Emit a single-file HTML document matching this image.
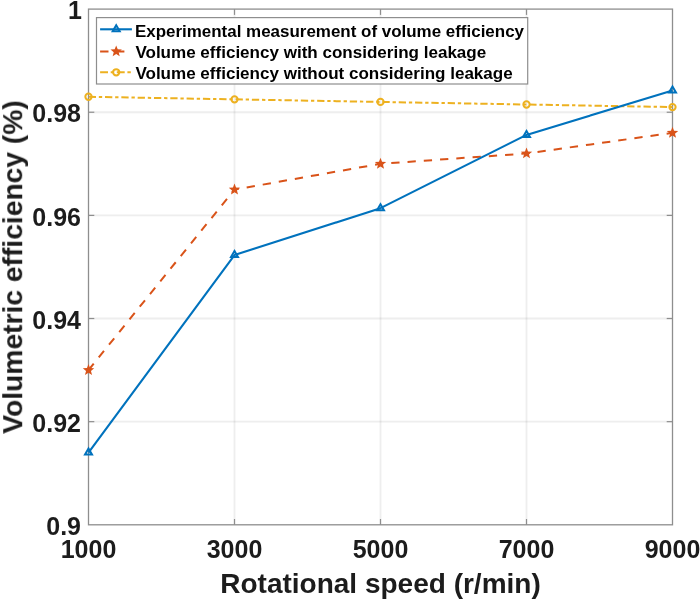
<!DOCTYPE html>
<html><head><meta charset="utf-8"><title>Volumetric efficiency</title>
<style>
html,body{margin:0;padding:0;background:#fff;}
body{width:700px;height:600px;overflow:hidden;}
svg{display:block;}
text{font-family:"Liberation Sans",sans-serif;font-weight:bold;fill:#1c1c1c;}
.tick{font-size:25px;}
.lab{font-size:28px;}
.leg{font-size:17px;fill:#000000;}
</style></head><body>
<svg width="700" height="600" viewBox="0 0 700 600">
<defs><filter id="gaa" x="0" y="0" width="700" height="600" filterUnits="userSpaceOnUse"><feOffset dx="0" dy="0"/></filter></defs>
<rect x="0" y="0" width="700" height="600" fill="#ffffff"/>
<g>
<line x1="234.50" y1="9.1" x2="234.50" y2="524.8" stroke="#262626" stroke-opacity="0.078" stroke-width="1.8"/>
<line x1="380.50" y1="9.1" x2="380.50" y2="524.8" stroke="#262626" stroke-opacity="0.078" stroke-width="1.8"/>
<line x1="526.50" y1="9.1" x2="526.50" y2="524.8" stroke="#262626" stroke-opacity="0.078" stroke-width="1.8"/>
<line x1="88.5" y1="421.66" x2="672.5" y2="421.66" stroke="#262626" stroke-opacity="0.078" stroke-width="1.8"/>
<line x1="88.5" y1="318.52" x2="672.5" y2="318.52" stroke="#262626" stroke-opacity="0.078" stroke-width="1.8"/>
<line x1="88.5" y1="215.38" x2="672.5" y2="215.38" stroke="#262626" stroke-opacity="0.078" stroke-width="1.8"/>
<line x1="88.5" y1="112.24" x2="672.5" y2="112.24" stroke="#262626" stroke-opacity="0.078" stroke-width="1.8"/>
</g>
<rect x="88.5" y="9.1" width="584.0" height="515.70" fill="none" stroke="#8e8e8e" stroke-width="1.3"/>
<g stroke="#8e8e8e" stroke-width="1.2">
<line x1="234.50" y1="524.8" x2="234.50" y2="519.00"/>
<line x1="234.50" y1="9.1" x2="234.50" y2="14.90"/>
<line x1="380.50" y1="524.8" x2="380.50" y2="519.00"/>
<line x1="380.50" y1="9.1" x2="380.50" y2="14.90"/>
<line x1="526.50" y1="524.8" x2="526.50" y2="519.00"/>
<line x1="526.50" y1="9.1" x2="526.50" y2="14.90"/>
<line x1="88.5" y1="421.66" x2="94.3" y2="421.66"/>
<line x1="672.5" y1="421.66" x2="666.7" y2="421.66"/>
<line x1="88.5" y1="318.52" x2="94.3" y2="318.52"/>
<line x1="672.5" y1="318.52" x2="666.7" y2="318.52"/>
<line x1="88.5" y1="215.38" x2="94.3" y2="215.38"/>
<line x1="672.5" y1="215.38" x2="666.7" y2="215.38"/>
<line x1="88.5" y1="112.24" x2="94.3" y2="112.24"/>
<line x1="672.5" y1="112.24" x2="666.7" y2="112.24"/>
</g>
<g filter="url(#gaa)">
<text class="tick" x="88.50" y="558" text-anchor="middle">1000</text>
<text class="tick" x="234.50" y="558" text-anchor="middle">3000</text>
<text class="tick" x="380.50" y="558" text-anchor="middle">5000</text>
<text class="tick" x="526.50" y="558" text-anchor="middle">7000</text>
<text class="tick" x="672.50" y="558" text-anchor="middle">9000</text>
<text class="tick" x="81.0" y="535.40" text-anchor="end">0.9</text>
<text class="tick" x="81.0" y="432.12" text-anchor="end">0.92</text>
<text class="tick" x="81.0" y="328.84" text-anchor="end">0.94</text>
<text class="tick" x="81.0" y="225.56" text-anchor="end">0.96</text>
<text class="tick" x="81.0" y="122.28" text-anchor="end">0.98</text>
<text class="tick" x="82.0" y="19.00" text-anchor="end">1</text>
<text class="lab" x="380.5" y="592.6" text-anchor="middle">Rotational speed (r/min)</text>
<text class="lab" style="font-size:28.23px" transform="translate(22.2,433.7) rotate(-90)" text-anchor="start">Volumetric efficiency (%)</text>
</g>
<polyline points="88.50,96.77 234.50,99.35 380.50,101.93 526.50,104.50 672.50,107.08" fill="none" stroke="#EDB120" stroke-width="2.0" stroke-dasharray="7.3 2.85 3.32 2.85" stroke-dashoffset="-0.2"/>
<polyline points="88.50,370.09 234.50,189.60 380.50,163.81 526.50,153.50 672.50,132.87" fill="none" stroke="#D95319" stroke-width="2.0" stroke-dasharray="8.3 8.0"/>
<polyline points="88.50,452.60 234.50,255.09 380.50,208.16 526.50,134.93 672.50,90.58" fill="none" stroke="#0072BD" stroke-width="2.1" stroke-linejoin="round"/>
<circle cx="88.50" cy="96.77" r="3.15" fill="none" stroke="#EDB120" stroke-width="2"/>
<circle cx="234.50" cy="99.35" r="3.15" fill="none" stroke="#EDB120" stroke-width="2"/>
<circle cx="380.50" cy="101.93" r="3.15" fill="none" stroke="#EDB120" stroke-width="2"/>
<circle cx="526.50" cy="104.50" r="3.15" fill="none" stroke="#EDB120" stroke-width="2"/>
<circle cx="672.50" cy="107.08" r="3.15" fill="none" stroke="#EDB120" stroke-width="2"/>
<polygon points="88.50,364.09 90.03,367.99 94.21,368.24 90.97,370.89 92.03,374.94 88.50,372.69 84.97,374.94 86.03,370.89 82.79,368.24 86.97,367.99" fill="#D95319"/>
<polygon points="234.50,183.60 236.03,187.49 240.21,187.74 236.97,190.40 238.03,194.45 234.50,192.20 230.97,194.45 232.03,190.40 228.79,187.74 232.97,187.49" fill="#D95319"/>
<polygon points="380.50,157.81 382.03,161.71 386.21,161.96 382.97,164.61 384.03,168.66 380.50,166.41 376.97,168.66 378.03,164.61 374.79,161.96 378.97,161.71" fill="#D95319"/>
<polygon points="526.50,147.50 528.03,151.39 532.21,151.64 528.97,154.30 530.03,158.35 526.50,156.10 522.97,158.35 524.03,154.30 520.79,151.64 524.97,151.39" fill="#D95319"/>
<polygon points="672.50,126.87 674.03,130.76 678.21,131.01 674.97,133.67 676.03,137.72 672.50,135.47 668.97,137.72 670.03,133.67 666.79,131.01 670.97,130.76" fill="#D95319"/>
<path d="M85.00,454.62 L92.00,454.62 L88.50,448.57 Z" fill="none" stroke="#0072BD" stroke-width="2" stroke-linejoin="miter"/>
<path d="M231.00,257.11 L238.00,257.11 L234.50,251.06 Z" fill="none" stroke="#0072BD" stroke-width="2" stroke-linejoin="miter"/>
<path d="M377.00,210.18 L384.00,210.18 L380.50,204.13 Z" fill="none" stroke="#0072BD" stroke-width="2" stroke-linejoin="miter"/>
<path d="M523.00,136.95 L530.00,136.95 L526.50,130.90 Z" fill="none" stroke="#0072BD" stroke-width="2" stroke-linejoin="miter"/>
<path d="M669.00,92.60 L676.00,92.60 L672.50,86.55 Z" fill="none" stroke="#0072BD" stroke-width="2" stroke-linejoin="miter"/>
<rect x="96.5" y="17.6" width="431.20" height="66.40" fill="#fff" stroke="#8e8e8e" stroke-width="1.2"/>
<line x1="100.1" y1="29.3" x2="131.9" y2="29.3" stroke="#0072BD" stroke-width="2.1"/>
<path d="M112.70,31.32 L119.70,31.32 L116.20,25.27 Z" fill="none" stroke="#0072BD" stroke-width="2" stroke-linejoin="miter"/>
<line x1="100.1" y1="51.4" x2="131.9" y2="51.4" stroke="#D95319" stroke-width="2.0" stroke-dasharray="8.4 7.5"/>
<polygon points="116.20,45.40 117.73,49.30 121.91,49.55 118.67,52.20 119.73,56.25 116.20,54.00 112.67,56.25 113.73,52.20 110.49,49.55 114.67,49.30" fill="#D95319"/>
<line x1="100.1" y1="72.3" x2="131.9" y2="72.3" stroke="#EDB120" stroke-width="2.0" stroke-dasharray="7.9 2.7 3.4 2.7"/>
<circle cx="116.20" cy="72.30" r="3.15" fill="none" stroke="#EDB120" stroke-width="2"/>
<g filter="url(#gaa)">
<text class="leg" style="font-size:16.97px" x="134.9" y="36.50">Experimental measurement of volume efficiency</text>
<text class="leg" style="font-size:17.05px" x="135.4" y="58.20">Volume efficiency with considering leakage</text>
<text class="leg" style="font-size:17.05px" x="135.4" y="78.60">Volume efficiency without considering leakage</text>
</g>
</svg></body></html>
